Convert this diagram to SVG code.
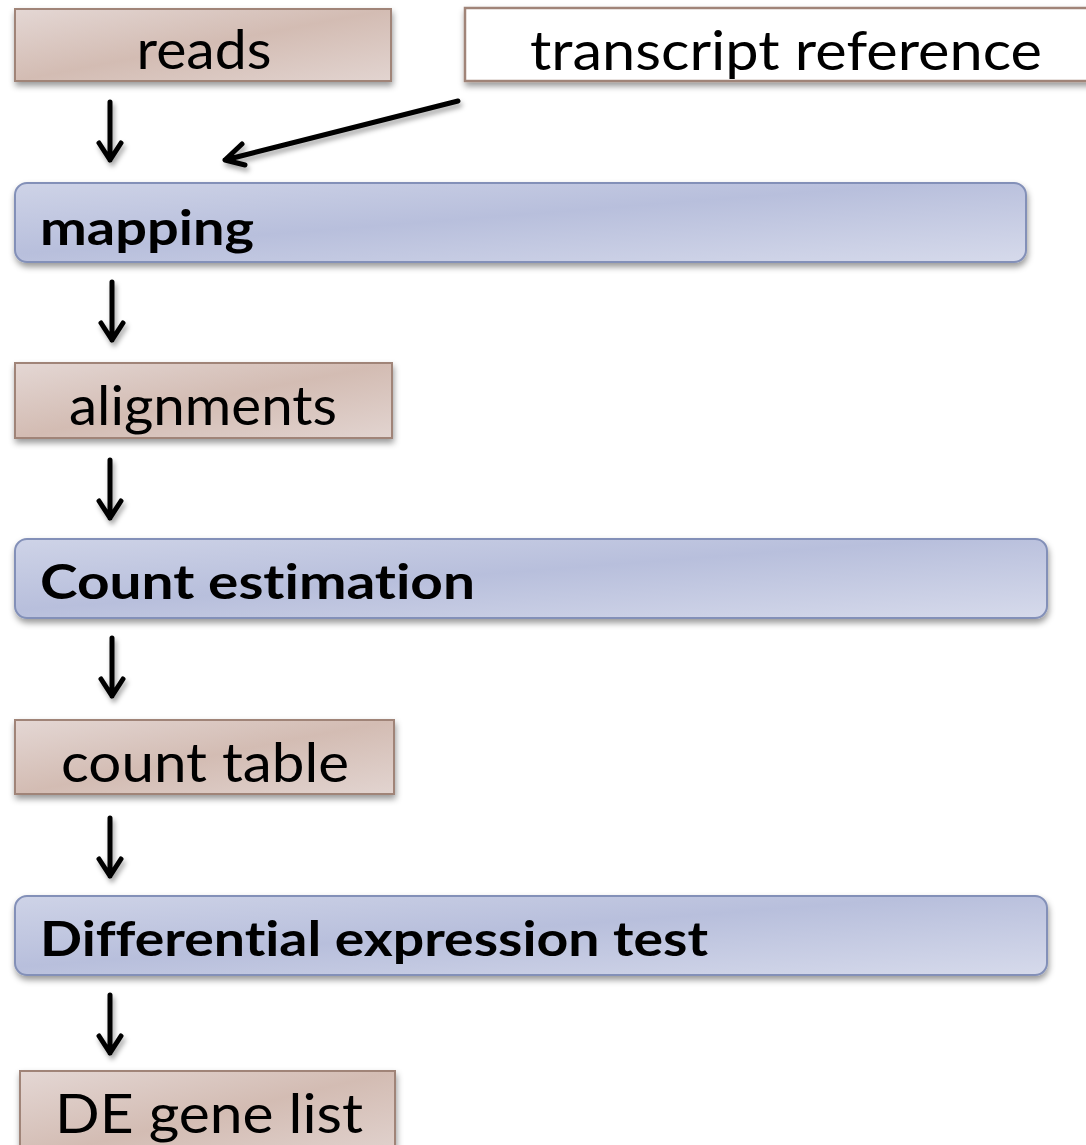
<svg xmlns="http://www.w3.org/2000/svg" width="1086" height="1145" viewBox="0 0 1086 1145">
  <style>
    .data rect { fill: url(#brownFill); stroke: #a08478; stroke-width: 2; }
    .step rect { fill: url(#blueFill); stroke: #8390b8; stroke-width: 2; }
    .ref rect { fill: #ffffff; stroke: #a08478; stroke-width: 2.5; }
    .lbl { font-family: Lato, "Open Sans", "Liberation Sans", sans-serif; font-size: 54px; fill: #000; font-variant-ligatures: none; }
    .blbl { font-family: Lato, "Open Sans", "Liberation Sans", sans-serif; font-size: 47px; font-weight: bold; fill: #000; font-variant-ligatures: none; }
    .arrow { fill: none; stroke: #000; stroke-width: 5; stroke-linecap: round; stroke-linejoin: round; }
  </style>
  <defs>
    <linearGradient id="brownFill" x1="0" y1="0" x2="1" y2="1">
      <stop offset="0" stop-color="#e4d7d4"/>
      <stop offset="0.5" stop-color="#d3bcb3"/>
      <stop offset="1" stop-color="#e2d4d0"/>
    </linearGradient>
    <linearGradient id="blueFill" x1="0" y1="0" x2="1" y2="1">
      <stop offset="0" stop-color="#ced3e7"/>
      <stop offset="0.45" stop-color="#b8bfdc"/>
      <stop offset="1" stop-color="#d6daeb"/>
    </linearGradient>
    <filter id="shadow" x="-5%" y="-20%" width="110%" height="150%">
      <feDropShadow dx="1" dy="4" stdDeviation="3" flood-color="#000" flood-opacity="0.4"/>
    </filter>
    <filter id="arrowShadow" x="-30%" y="-30%" width="160%" height="160%">
      <feDropShadow dx="2" dy="4" stdDeviation="2.5" flood-color="#000" flood-opacity="0.35"/>
    </filter>
  </defs>

  <!-- connectors -->
  <g id="connectors" filter="url(#arrowShadow)">
    <path class="arrow" d="M110 102 V160 M99 143 L110 160 L121 143"/>
    <path class="arrow" d="M458 101 L225 160 M242 144 L225 160 L245 165"/>
    <path class="arrow" d="M112 282 V340 M101 323 L112 340 L123 323"/>
    <path class="arrow" d="M110 460 V518 M99 501 L110 518 L121 501"/>
    <path class="arrow" d="M112 638 V696 M101 679 L112 696 L123 679"/>
    <path class="arrow" d="M110 818 V876 M99 859 L110 876 L121 859"/>
    <path class="arrow" d="M110 995 V1053 M99 1036 L110 1053 L121 1036"/>
  </g>

  <!-- input data -->
  <g id="reads" class="data">
    <rect x="15" y="9" width="376" height="72" filter="url(#shadow)"/>
    <text class="lbl" x="204" y="69" text-anchor="middle" textLength="135" lengthAdjust="spacingAndGlyphs">reads</text>
  </g>

  <g id="transcript-reference" class="ref">
    <rect x="465" y="8" width="640" height="73" filter="url(#shadow)"/>
    <text class="lbl" x="786" y="70" text-anchor="middle" textLength="512" lengthAdjust="spacingAndGlyphs">transcript reference</text>
  </g>

  <!-- processing steps -->
  <g id="mapping" class="step">
    <rect x="15" y="183" width="1011" height="79" rx="12" filter="url(#shadow)"/>
    <text class="blbl" x="40" y="245" textLength="214" lengthAdjust="spacingAndGlyphs">mapping</text>
  </g>

  <g id="alignments" class="data">
    <rect x="15" y="363" width="377" height="75" filter="url(#shadow)"/>
    <text class="lbl" x="203" y="425" text-anchor="middle" textLength="268" lengthAdjust="spacingAndGlyphs">alignments</text>
  </g>

  <g id="count-estimation" class="step">
    <rect x="15" y="539" width="1032" height="79" rx="12" filter="url(#shadow)"/>
    <text class="blbl" x="40" y="599" textLength="435" lengthAdjust="spacingAndGlyphs">Count estimation</text>
  </g>

  <g id="count-table" class="data">
    <rect x="15" y="720" width="379" height="74" filter="url(#shadow)"/>
    <text class="lbl" x="205" y="782" text-anchor="middle" textLength="288" lengthAdjust="spacingAndGlyphs">count table</text>
  </g>

  <g id="differential-expression-test" class="step">
    <rect x="15" y="896" width="1032" height="79" rx="12" filter="url(#shadow)"/>
    <text class="blbl" x="40" y="956" textLength="668" lengthAdjust="spacingAndGlyphs">Differential expression test</text>
  </g>

  <g id="de-gene-list" class="data">
    <rect x="20" y="1071" width="375" height="90" filter="url(#shadow)"/>
    <text class="lbl" x="209" y="1133" text-anchor="middle" textLength="308" lengthAdjust="spacingAndGlyphs">DE gene list</text>
  </g>
</svg>
